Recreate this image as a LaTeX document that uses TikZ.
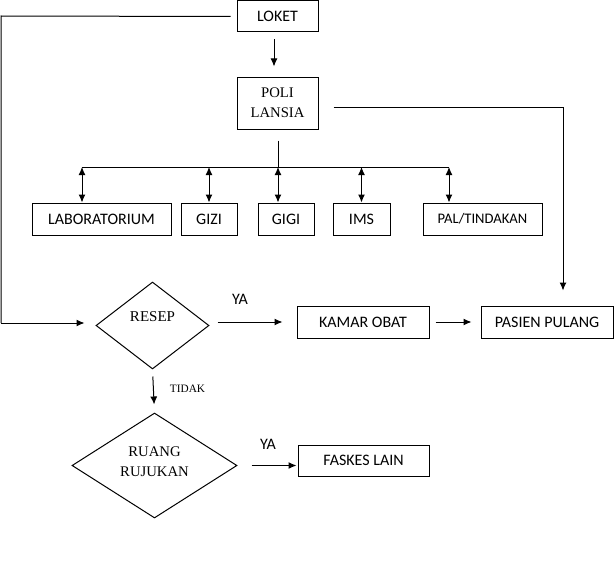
\documentclass[tikz,border=0pt]{standalone}
\usepackage{fontspec}
\setmainfont{Liberation Serif}
\newfontfamily\calfont{Carlito}
\usetikzlibrary{arrows.meta,shapes.geometric}
\begin{document}
\begin{tikzpicture}[x=1pt,y=-1pt,
  box/.style={draw, line width=1pt, inner sep=0pt, font=\calfont\fontsize{16}{19}\selectfont},
  sbox/.style={draw, line width=1pt, inner sep=0pt, align=center, font=\fontsize{14.7}{20}\selectfont},
  dia/.style={draw, diamond, line width=1pt, inner sep=0pt},
  lbl/.style={inner sep=0pt, font=\calfont\fontsize{16}{19}\selectfont},
  serif/.style={inner sep=0pt, align=center, font=\fontsize{14.7}{20}\selectfont},
  ln/.style={line width=1pt},
  arr/.style={line width=1pt, -{Latex[length=8pt,width=7pt]}},
  dbl/.style={line width=1pt, {Latex[length=8pt,width=7pt]}-{Latex[length=8pt,width=7pt]}},
]
\useasboundingbox (0,0) rectangle (615,586);

% boxes
\node[box, minimum width=81pt, minimum height=31pt] (loket) at (277.5,16.5) {LOKET};
\node[sbox, minimum width=81pt, minimum height=52pt] (poli) at (277.5,103) {POLI\\LANSIA};
\node[box, minimum width=139pt, minimum height=32pt] (lab) at (101.5,219) {LABORATORIUM};
\node[box, minimum width=56pt, minimum height=32pt] (gizi) at (209,219) {GIZI};
\node[box, minimum width=56pt, minimum height=32pt] (gigi) at (286,219) {GIGI};
\node[box, minimum width=57pt, minimum height=32pt] (ims) at (361.5,219) {IMS};
\node[box, minimum width=119pt, minimum height=32pt, font=\calfont\fontsize{14.6}{18}\selectfont] (pal) at (482.5,219) {PAL/TINDAKAN};
\node[box, minimum width=132pt, minimum height=32pt] (kamar) at (363,322) {KAMAR OBAT};
\node[box, minimum width=132pt, minimum height=32pt] (pasien) at (547,322) {PASIEN PULANG};
\node[box, minimum width=131pt, minimum height=31pt] (faskes) at (363.5,460.5) {FASKES LAIN};

% diamonds
\node[dia, minimum width=113pt, minimum height=87pt] (resep) at (152.5,325.5) {};
\node[serif, font=\fontsize{15}{20}\selectfont] (resept) at (152.5,317) {RESEP};
\node[dia, minimum width=165pt, minimum height=105pt] (ruang) at (154.5,465.5) {};
\node[serif] (ruangt) at (154.5,462) {RUANG\\RUJUKAN};

% labels
\node[lbl] (ya1) at (240,299) {YA};
\node[lbl] (ya2) at (268,444) {YA};
\node[inner sep=0pt, font=\fontsize{11.3}{13}\selectfont] (tidak) at (187.5,389) {TIDAK};

% hub coordinates
\coordinate (hub) at (278,167);
\coordinate (hl) at (82,167);
\coordinate (hr) at (449,167);
\coordinate (lc1) at (1,16);
\coordinate (lc2) at (1,323);

% connectors
\draw[ln, shorten <=6pt] (loket.west) -- (lc1) -- (lc2);
\draw[arr, shorten >=11pt] (lc2) -- (resep.west |- lc2);
\draw[arr, shorten <=7pt, shorten >=10pt] ([xshift=-3.5pt]loket.south) -- ([xshift=-3.5pt]poli.north);
\draw[arr, shorten <=15pt, shorten >=15pt] ([yshift=-4pt]poli.east) -| ([xshift=16pt]pasien.north);
\draw[ln, shorten <=11pt] (poli.south -| hub) -- (hub);
\draw[ln] (hl) -- (hr);
\draw[dbl] (hl) -- (hl |- lab.north);
\draw[dbl] (hl -| gizi.north) -- (gizi.north);
\draw[dbl] (hub) -- (hub |- gigi.north);
\draw[dbl] (hl -| ims.north) -- (ims.north);
\draw[dbl] (hr) -- (hr |- pal.north);
\draw[arr, shorten <=8pt, shorten >=14pt] (resep.east |- kamar.west) -- (kamar.west);
\draw[arr, shorten <=6pt, shorten >=9pt] (kamar.east) -- (pasien.west);
\draw[arr, shorten <=7pt, shorten >=8pt] (resep.south) -- (ruang.north);
\draw[arr, shorten <=14pt, shorten >=1pt] (ruang.east) -- (ruang.east -| faskes.west);
\end{tikzpicture}
\end{document}
